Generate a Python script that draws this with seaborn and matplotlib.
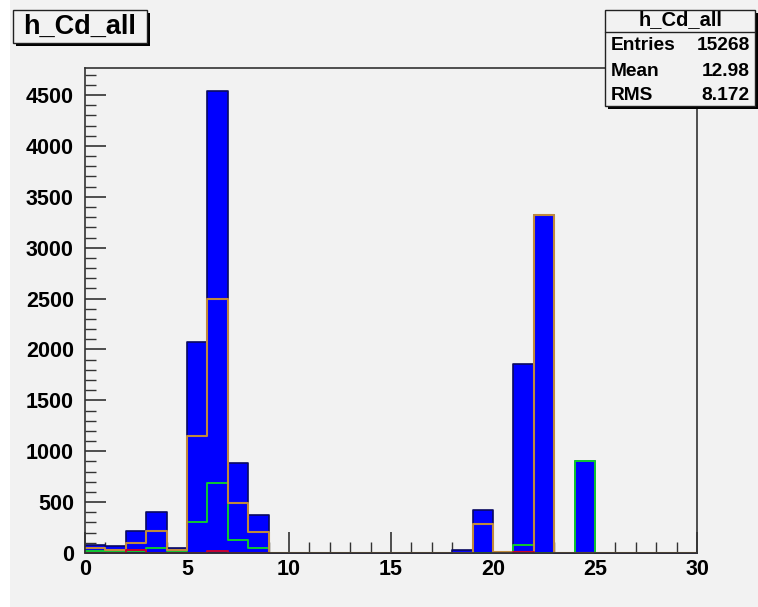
import numpy as np
import pandas as pd
import matplotlib
matplotlib.use("Agg")
import matplotlib.pyplot as plt
from matplotlib.patches import Rectangle
from matplotlib.ticker import MultipleLocator
import seaborn as sns

sns.set_style("ticks")
plt.rcParams['font.family'] = ['Liberation Sans', 'DejaVu Sans']
plt.rcParams['font.weight'] = 'bold'

# ---- data (counts per unit bin, 0..30) ----
bin_edges = list(range(0, 31))
total = [82, 65, 219, 398, 49, 2074, 4540, 888, 372, 0,
         0, 0, 0, 0, 0, 0, 0, 0, 25, 425,
         10, 1855, 3321, 0, 905, 0, 0, 0, 0, 0]
comp_orange = [49, 33, 98, 212, 33, 1150, 2492, 490, 202, 0,
               0, 0, 0, 0, 0, 0, 0, 0, 0, 284,
               10, 10, 3321, 0, 0, 0, 0, 0, 0, 0]
comp_green = [16, 16, 20, 50, 23, 300, 686, 131, 49, 0,
              0, 0, 0, 0, 0, 0, 0, 0, 0, 0,
              0, 75, 0, 0, 905, 0, 0, 0, 0, 0]
comp_red = [0, 0, 30, 0, 0, 0, 15, 0, 0, 0,
            0, 0, 0, 0, 0, 0, 0, 0, 0, 0,
            0, 5, 0, 0, 0, 0, 0, 0, 0, 0]
title = "h_Cd_all"
stats = [("Entries", "15268"), ("Mean", "12.98"), ("RMS", "8.172")]

centers = [e + 0.5 for e in bin_edges[:-1]]
df = pd.DataFrame({"x": centers, "total": total, "orange": comp_orange,
                   "green": comp_green, "red": comp_red})

W, H = 758, 607
fig = plt.figure(figsize=(W / 100, H / 100), dpi=100, facecolor="white")
bg = "#f2f2f2"
fig.patches.append(Rectangle((10 / W, 0), 1, 1, transform=fig.transFigure,
                             facecolor=bg, edgecolor="none", zorder=-10))

ax = fig.add_axes([85 / W, 1 - 553 / H, (697 - 85) / W, (553 - 68) / H])
ax.set_facecolor(bg)

sns.histplot(data=df, x="x", weights="total", bins=bin_edges, element="step",
             fill=True, color="#0000ff", alpha=1.0, edgecolor="#0a0a60",
             linewidth=1.2, ax=ax)
sns.histplot(data=df, x="x", weights="green", bins=bin_edges, element="step",
             fill=False, color="#10c830", linewidth=1.4, ax=ax)
sns.histplot(data=df, x="x", weights="orange", bins=bin_edges, element="step",
             fill=False, color="#c08a3c", linewidth=1.5, ax=ax)
# red component: drawn over the regions where it is populated
red_nonzero = [i for i, v in enumerate(comp_red) if v > 0]
for lo, hi in [(0, 9), (21, 22)]:
    sub = df.iloc[lo:hi]
    sns.histplot(data=sub, x="x", weights="red", bins=bin_edges[lo:hi + 1],
                 element="step", fill=False, color="#c80030", linewidth=1.4, ax=ax)

ax.set_xlim(0, 30)
ax.set_ylim(0, 4766)
ax.set_xlabel("")
ax.set_ylabel("")
ax.xaxis.set_major_locator(MultipleLocator(5))
ax.xaxis.set_minor_locator(MultipleLocator(1))
ax.yaxis.set_major_locator(MultipleLocator(500))
ax.yaxis.set_minor_locator(MultipleLocator(100))
ax.tick_params(axis="both", which="major", direction="in", length=15,
               width=1.2, color="#333333", labelsize=15.5, labelcolor="black")
ax.tick_params(axis="both", which="minor", direction="in", length=8,
               width=1.0, color="#333333")
ax.tick_params(axis="x", which="both", top=False, pad=4)
ax.tick_params(axis="y", which="both", right=False, pad=8)
for lab in ax.get_xticklabels() + ax.get_yticklabels():
    lab.set_fontweight("bold")
for s in ax.spines.values():
    s.set_visible(True)
    s.set_color("#333333")
    s.set_linewidth(1.2)

def fig_rect(x0, y0, x1, y1, **kw):
    return Rectangle((x0 / W, 1 - y1 / H), (x1 - x0) / W, (y1 - y0) / H,
                     transform=fig.transFigure, **kw)

# title box with shadow
fig.patches.append(fig_rect(16, 13, 150, 46, facecolor="black", edgecolor="none", zorder=5))
fig.patches.append(fig_rect(13, 10, 147, 43, facecolor=bg, edgecolor="#222222",
                            linewidth=1.0, zorder=6))
fig.text(80 / W, 1 - 27 / H, title, ha="center", va="center", fontsize=19.5,
         fontweight="bold", color="black", zorder=7)

# stats box with shadow
fig.patches.append(fig_rect(608, 13, 758, 109, facecolor="black", edgecolor="none", zorder=5))
fig.patches.append(fig_rect(605, 10, 755, 106, facecolor=bg, edgecolor="#222222",
                            linewidth=1.0, zorder=6))
fig.lines.append(plt.Line2D([605 / W, 755 / W], [1 - 32 / H, 1 - 32 / H],
                            transform=fig.transFigure, color="#222222",
                            linewidth=1.0, zorder=7))
fig.text(681 / W, 1 - 20 / H, title, ha="center", va="center", fontsize=14.5,
         fontweight="bold", color="black", zorder=7)
for i, (k, v) in enumerate(stats):
    yy = 1 - (46 + i * 25) / H
    fig.text(611 / W, yy, k, ha="left", va="center", fontsize=13.8,
             fontweight="bold", color="black", zorder=7)
    fig.text(750 / W, yy, v, ha="right", va="center", fontsize=13.8,
             fontweight="bold", color="black", zorder=7)

fig.savefig("out.png", dpi=100, facecolor="white")
